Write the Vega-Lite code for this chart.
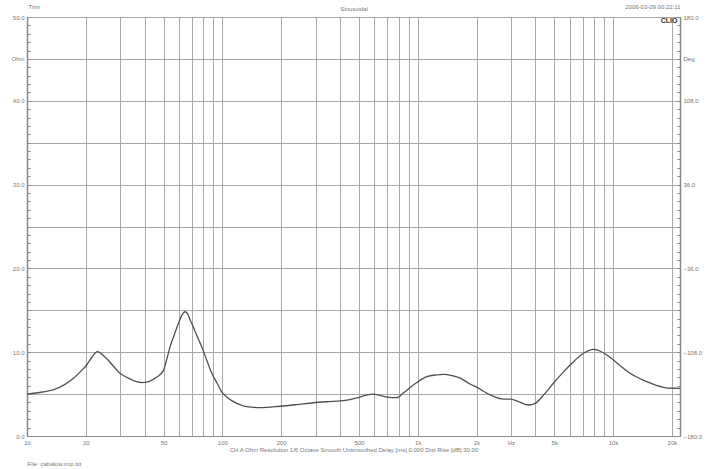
{
  "$schema": "https://vega.github.io/schema/vega-lite/v6.json",
  "width": 653,
  "height": 419,
  "autosize": {"type": "none"},
  "padding": {"left": 27, "top": 17, "right": 28, "bottom": 33},
  "background": "white",
  "config": {
    "view": {"stroke": "#999", "strokeWidth": 1},
    "axis": {"labelFont": "Liberation Sans", "labelFontSize": 6, "labelColor": "#777", "titleFont": "Liberation Sans", "titleFontSize": 6, "titleColor": "#777", "titleFontWeight": "normal", "labelOverlap": false, "labelFlush": false, "gridColor": "#a8a8a8", "gridOpacity": 1, "gridWidth": 1, "domainColor": "#888", "tickColor": "#888"}
  },
  "data": {"values": [
    {"freq": 10, "ohm": 5.0}, {"freq": 12, "ohm": 5.25}, {"freq": 13.6, "ohm": 5.5}, {"freq": 15.5, "ohm": 6.1},
    {"freq": 17.3, "ohm": 6.88}, {"freq": 19, "ohm": 7.8}, {"freq": 20.2, "ohm": 8.47}, {"freq": 21.5, "ohm": 9.4},
    {"freq": 22.9, "ohm": 10.06}, {"freq": 24.3, "ohm": 9.7}, {"freq": 26, "ohm": 9.07}, {"freq": 28, "ohm": 8.2},
    {"freq": 29.9, "ohm": 7.48}, {"freq": 32.4, "ohm": 7.0}, {"freq": 36.4, "ohm": 6.48}, {"freq": 38.6, "ohm": 6.38},
    {"freq": 42, "ohm": 6.5}, {"freq": 46, "ohm": 7.0}, {"freq": 49.9, "ohm": 7.8}, {"freq": 52, "ohm": 9.2},
    {"freq": 54, "ohm": 10.66}, {"freq": 57, "ohm": 12.2}, {"freq": 59.6, "ohm": 13.45}, {"freq": 62, "ohm": 14.4},
    {"freq": 64.4, "ohm": 14.83}, {"freq": 66.5, "ohm": 14.55}, {"freq": 68, "ohm": 14.0}, {"freq": 71, "ohm": 13.0},
    {"freq": 74, "ohm": 12.0}, {"freq": 78.4, "ohm": 10.66}, {"freq": 83, "ohm": 9.1}, {"freq": 88.3, "ohm": 7.48},
    {"freq": 94, "ohm": 6.3}, {"freq": 99, "ohm": 5.3}, {"freq": 106, "ohm": 4.6}, {"freq": 114, "ohm": 4.1},
    {"freq": 123, "ohm": 3.75}, {"freq": 133, "ohm": 3.5}, {"freq": 156, "ohm": 3.38}, {"freq": 197, "ohm": 3.55},
    {"freq": 240, "ohm": 3.75}, {"freq": 292, "ohm": 3.97}, {"freq": 350, "ohm": 4.1}, {"freq": 401, "ohm": 4.18},
    {"freq": 450, "ohm": 4.35}, {"freq": 488, "ohm": 4.55}, {"freq": 540, "ohm": 4.85}, {"freq": 593, "ohm": 5.0},
    {"freq": 640, "ohm": 4.85}, {"freq": 700, "ohm": 4.65}, {"freq": 781, "ohm": 4.57}, {"freq": 850, "ohm": 5.2},
    {"freq": 950, "ohm": 6.09}, {"freq": 1113, "ohm": 7.08}, {"freq": 1250, "ohm": 7.3}, {"freq": 1355, "ohm": 7.36},
    {"freq": 1500, "ohm": 7.2}, {"freq": 1650, "ohm": 6.9}, {"freq": 1850, "ohm": 6.2}, {"freq": 2008, "ohm": 5.8},
    {"freq": 2350, "ohm": 4.9}, {"freq": 2750, "ohm": 4.4}, {"freq": 2974, "ohm": 4.4}, {"freq": 3280, "ohm": 4.1},
    {"freq": 3690, "ohm": 3.7}, {"freq": 3990, "ohm": 3.9}, {"freq": 4450, "ohm": 5.0}, {"freq": 4950, "ohm": 6.29},
    {"freq": 5500, "ohm": 7.5}, {"freq": 6030, "ohm": 8.47}, {"freq": 7050, "ohm": 9.87}, {"freq": 7930, "ohm": 10.34},
    {"freq": 8920, "ohm": 9.94}, {"freq": 10040, "ohm": 9.07}, {"freq": 11000, "ohm": 8.3}, {"freq": 12220, "ohm": 7.48},
    {"freq": 14880, "ohm": 6.48}, {"freq": 18100, "ohm": 5.81}, {"freq": 20000, "ohm": 5.7}, {"freq": 22000, "ohm": 5.69}
  ]},
  "resolve": {"axis": {"x": "independent", "y": "independent"}},
  "layer": [
    {
      "mark": {"type": "line", "opacity": 0},
      "encoding": {
        "x": {"field": "freq", "type": "quantitative", "scale": {"type": "log", "domain": [10, 22000], "nice": false},
          "axis": {"orient": "bottom", "labels": false, "ticks": false, "domain": false, "grid": false, "title": "File: cabalow.imp.txt", "titleX": 0, "titleY": 27, "titleAlign": "left", "titleBaseline": "middle", "titleAnchor": "start"}},
        "y": {"field": "ohm", "type": "quantitative", "scale": {"domain": [0, 50], "nice": false, "zero": false},
          "axis": {"orient": "left", "labels": false, "ticks": false, "domain": false, "grid": true, "values": [0, 5, 10, 15, 20, 25, 30, 35, 40, 45, 50],
            "title": "CLIO", "titleAngle": 0, "titleX": 650, "titleY": 3, "titleAlign": "right", "titleBaseline": "middle", "titleColor": "#333", "titleFontWeight": "bold", "titleFontSize": 7}}
      }
    },
    {
      "mark": {"type": "line", "color": "#505050", "strokeWidth": 1.3, "interpolate": "monotone"},
      "encoding": {
        "x": {"field": "freq", "type": "quantitative", "scale": {"type": "log", "domain": [10, 22000], "nice": false},
          "axis": {"orient": "bottom", "grid": true, "ticks": false, "domain": true, "labelPadding": 3,
            "values": [10, 20, 30, 40, 50, 60, 70, 80, 90, 100, 200, 300, 400, 500, 600, 700, 800, 900, 1000, 2000, 3000, 4000, 5000, 6000, 7000, 8000, 9000, 10000, 20000],
            "labelExpr": "indexof([10,20,50,100,200,500,1000,2000,3000,5000,10000,20000], datum.value) < 0 ? '' : (datum.value == 3000 ? 'Hz' : (datum.value >= 1000 ? (datum.value/1000) + 'k' : '' + datum.value))",
            "title": "CH A   Ohm   Resolution 1/6 Octave   Smooth Unsmoothed   Delay [ms] 0.000   Dist Rise [dB] 30.00", "titleY": 13, "titleBaseline": "middle"}},
        "y": {"field": "ohm", "type": "quantitative", "scale": {"domain": [0, 50], "nice": false, "zero": false},
          "axis": {"orient": "left", "grid": false, "ticks": true, "tickSize": -3, "labelPadding": 6, "domain": true, "domainWidth": 1.5,
            "values": [0,1,2,3,4,5,6,7,8,9,10,11,12,13,14,15,16,17,18,19,20,21,22,23,24,25,26,27,28,29,30,31,32,33,34,35,36,37,38,39,40,41,42,43,44,45,46,47,48,49,50],
            "labelExpr": "datum.value == 45 ? 'Ohm' : (datum.value % 10 == 0 ? format(datum.value, '.1f') : '')",
            "title": "Trim", "titleAngle": 0, "titleX": 1, "titleY": -11, "titleAlign": "left", "titleBaseline": "middle"}}
      }
    },
    {
      "mark": {"type": "line", "opacity": 0},
      "encoding": {
        "x": {"field": "freq", "type": "quantitative", "scale": {"type": "log", "domain": [10, 22000], "nice": false},
          "axis": {"orient": "top", "labels": false, "ticks": false, "domain": false, "grid": false, "title": "Sinusoidal", "titleY": -9, "titleBaseline": "middle"}},
        "y": {"field": "ohm", "type": "quantitative", "scale": {"domain": [0, 50], "nice": false, "zero": false},
          "axis": {"orient": "right", "grid": false, "ticks": true, "tickSize": -3, "labelPadding": 6, "domain": true, "domainWidth": 1.5,
            "values": [0,1,2,3,4,5,6,7,8,9,10,11,12,13,14,15,16,17,18,19,20,21,22,23,24,25,26,27,28,29,30,31,32,33,34,35,36,37,38,39,40,41,42,43,44,45,46,47,48,49,50],
            "labelExpr": "datum.value == 45 ? 'Deg' : (datum.value % 10 == 0 ? format(datum.value * 7.2 - 180, '.1f') : '')",
            "title": "2006-03-09 00:22:11", "titleAngle": 0, "titleX": 0, "titleY": -11, "titleAlign": "right", "titleBaseline": "middle"}}
      }
    }
  ]
}
